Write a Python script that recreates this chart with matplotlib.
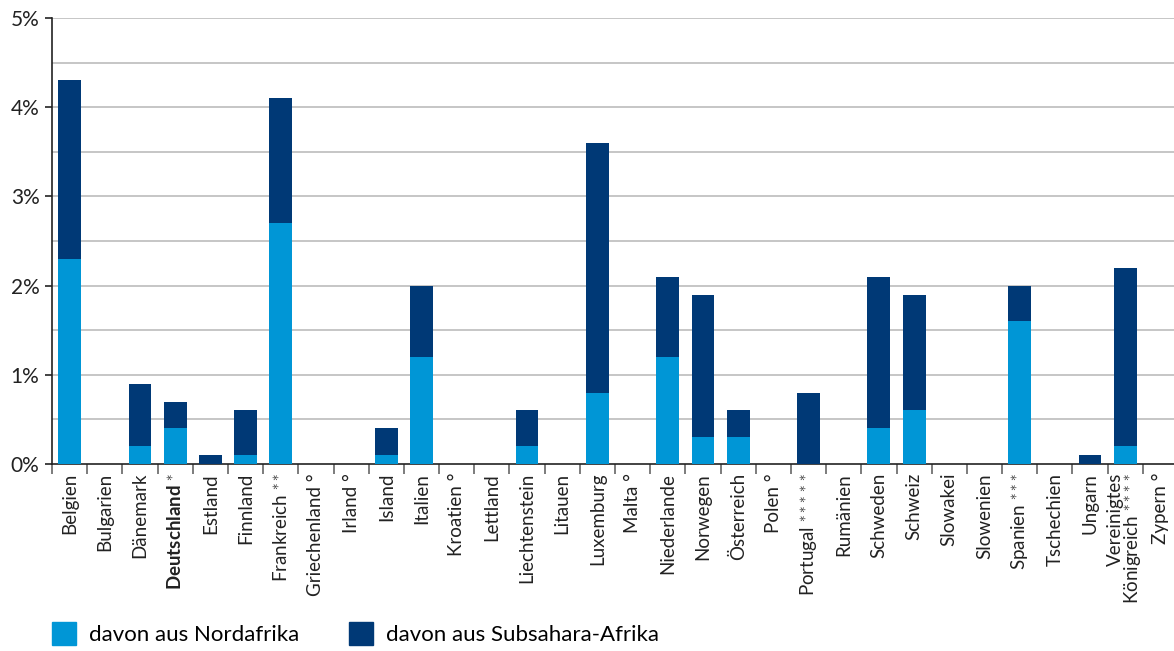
import numpy as np
import matplotlib
matplotlib.use("Agg")
import matplotlib.pyplot as plt
from matplotlib.patches import Patch

plt.rcParams['font.family'] = ['Lato', 'DejaVu Sans']
plt.rcParams['mathtext.fontset'] = 'custom'
plt.rcParams['mathtext.rm'] = 'Lato'
plt.rcParams['mathtext.it'] = 'Lato'
plt.rcParams['mathtext.bf'] = 'Lato:bold'

# countries and footnote marks
countries = ["Belgien", "Bulgarien", "Dänemark", "Deutschland", "Estland", "Finnland",
             "Frankreich", "Griechenland", "Irland", "Island", "Italien", "Kroatien",
             "Lettland", "Liechtenstein", "Litauen", "Luxemburg", "Malta", "Niederlande",
             "Norwegen", "Österreich", "Polen", "Portugal", "Rumänien", "Schweden",
             "Schweiz", "Slowakei", "Slowenien", "Spanien", "Tschechien", "Ungarn",
             "Vereinigtes\nKönigreich", "Zypern"]
marks = ["", "", "", "*", "", "", "**", "°", "°", "", "", "°",
         "", "", "", "", "°", "", "", "", "°", "*****", "", "",
         "", "", "", "***", "", "", "****", "°"]

# share in % of population
nordafrika = [2.3, 0, 0.2, 0.4, 0, 0.1, 2.7, 0, 0, 0.1, 1.2, 0,
              0, 0.2, 0, 0.8, 0, 1.2, 0.3, 0.3, 0, 0, 0, 0.4,
              0.6, 0, 0, 1.6, 0, 0, 0.2, 0]
gesamt = [4.3, 0, 0.9, 0.7, 0.1, 0.6, 4.1, 0, 0, 0.4, 2.0, 0,
          0, 0.6, 0, 3.6, 0, 2.1, 1.9, 0.6, 0, 0.8, 0, 2.1,
          1.9, 0, 0, 2.0, 0, 0.1, 2.2, 0]
subsahara = [round(g - n, 2) for g, n in zip(gesamt, nordafrika)]

c_nord = "#0096d6"
c_sub = "#003976"

fig = plt.figure(figsize=(11.74, 6.51), dpi=100)
ax = fig.add_axes([52/1174, 1 - 464/651, 1126/1174, 446/651])

x = np.arange(len(countries))
ax.bar(x, nordafrika, width=0.65, color=c_nord, zorder=3)
ax.bar(x, subsahara, width=0.65, bottom=nordafrika, color=c_sub, zorder=3)

ax.set_xlim(-0.5, len(countries) - 0.5)
ax.set_ylim(0, 5)
ax.set_yticks(range(6))
ax.set_yticklabels([f"{i}%" for i in range(6)], fontsize=15, color="#222222")
for v in np.arange(0.5, 5.01, 0.5):
    ax.axhline(v, color="#bcbcbc", lw=1.2, zorder=1)

ax.set_xticks(x - 0.5)
ax.set_xticklabels([])
ax.tick_params(axis='x', length=7, color="#666666", width=1.2)
ax.tick_params(axis='y', length=5, color="#222222", width=1.2, pad=4)

for s in ["top", "right"]:
    ax.spines[s].set_visible(False)
ax.spines["left"].set_color("#222222")
ax.spines["bottom"].set_color("#222222")
ax.spines["left"].set_linewidth(1.2)
ax.spines["bottom"].set_linewidth(1.2)

for i, (name, m) in enumerate(zip(countries, marks)):
    if m:
        if "*" in m:
            lab = name + r" $^{" + r"\ast" * len(m) + "}$"
        else:
            lab = name + " " + m
    else:
        lab = name
    weight = "bold" if name == "Deutschland" else "normal"
    ax.text(i, -0.1, lab, rotation=90, ha="center", va="top", fontsize=13.5,
            color="#222222", weight=weight, multialignment="right",
            linespacing=0.9, transform=ax.transData, clip_on=False)

handles = [Patch(color=c_nord, label="davon aus Nordafrika"),
           Patch(color=c_sub, label="davon aus Subsahara-Afrika")]
fig.legend(handles=handles, loc="lower left", bbox_to_anchor=(0.027, -0.022), ncol=2,
           frameon=False, fontsize=16, handlelength=1.1, handleheight=1.2,
           handletextpad=0.6, columnspacing=2.2)

fig.savefig("out.png", dpi=100)
